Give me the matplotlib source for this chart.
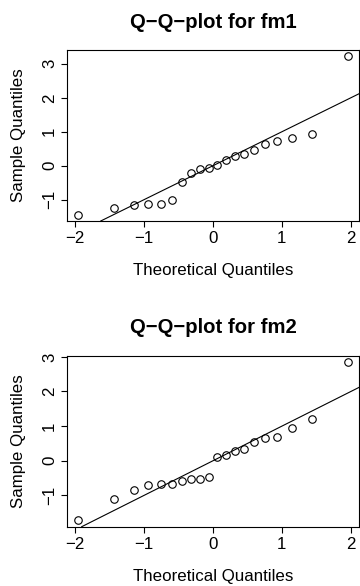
import matplotlib
matplotlib.use('Agg')
import matplotlib.pyplot as plt

plt.rcParams['font.family'] = ['Liberation Sans', 'DejaVu Sans']

theo = [-1.96, -1.44, -1.15, -0.935, -0.755, -0.598, -0.454, -0.319, -0.189, -0.063,
        0.063, 0.189, 0.319, 0.454, 0.598, 0.755, 0.935, 1.15, 1.44, 1.96]
fm1_sample = [-1.44, -1.23, -1.17, -1.12, -1.12, -1.02, -0.47, -0.22, -0.09, -0.08,
              0.03, 0.18, 0.29, 0.35, 0.45, 0.64, 0.74, 0.83, 0.92, 3.22]
fm2_sample = [-1.72, -1.10, -0.84, -0.71, -0.67, -0.67, -0.58, -0.54, -0.54, -0.47,
              0.10, 0.17, 0.29, 0.35, 0.55, 0.66, 0.69, 0.95, 1.20, 2.85]
titles = ['Q\u2212Q\u2212plot for fm1', 'Q\u2212Q\u2212plot for fm2']
xticks = [-2, -1, 0, 1, 2]
yticks = [-1, 0, 1, 2, 3]

fig = plt.figure(figsize=(3.6, 5.86), dpi=100)
boxes = [[0.186, 0.6229, 0.811, 0.2918], [0.186, 0.1012, 0.811, 0.2918]]

for box, sample, title in zip(boxes, [fm1_sample, fm2_sample], titles):
    ax = fig.add_axes(box)
    ax.plot(theo, sample, 'o', mfc='none', mec='black', ms=5.4, mew=0.8)
    ax.margins(x=0.04, y=0.04)
    # reference line y = x
    ax.axline((0, 0), slope=1, color='black', lw=0.8)
    ax.set_xticks(xticks)
    ax.set_yticks(yticks)
    ax.tick_params(direction='out', length=4.2, width=0.8, labelsize=12.2, pad=3)
    ax.tick_params(axis='y', labelrotation=90)
    for lab in ax.get_yticklabels():
        lab.set_va('center')
    for s in ax.spines.values():
        s.set_linewidth(0.8)
    ax.set_title(title, fontsize=14.6, fontweight='bold', pad=16)
    ax.set_xlabel('Theoretical Quantiles', fontsize=12.2, va='center')
    ax.xaxis.set_label_coords(0.5, -0.29)
    ax.set_ylabel('Sample Quantiles', fontsize=12.2, va='center')
    ax.yaxis.set_label_coords(-0.167, 0.5)

fig.savefig('out.png', dpi=100)
